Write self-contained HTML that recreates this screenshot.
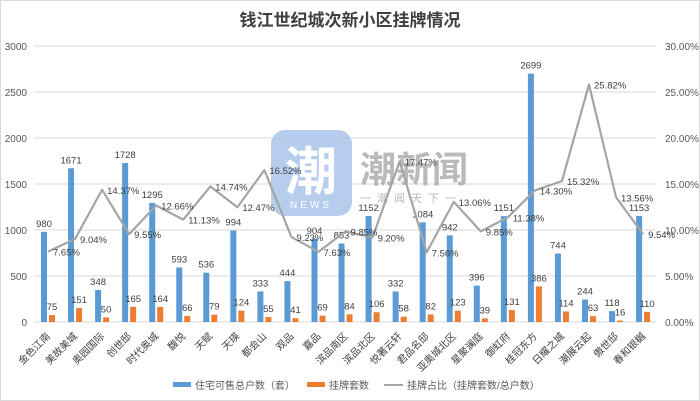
<!DOCTYPE html>
<html><head><meta charset="utf-8"><style>
html,body{margin:0;padding:0;background:#fff}
svg{display:block;font-family:"Liberation Sans","Noto Sans CJK SC",sans-serif}
</style></head><body>
<svg id="c" width="700" height="401" viewBox="0 0 700 401" xmlns="http://www.w3.org/2000/svg">
<rect x="0.5" y="0.5" width="699" height="400" fill="#fff" stroke="#d9d9d9"/>
<text x="350" y="26" text-anchor="middle" font-size="17" font-weight="bold" fill="#404040">钱江世纪城次新小区挂牌情况</text>
<g id="grid"></g>
<g id="wm">
<rect x="271" y="130" width="81" height="86" rx="14" fill="#a9c4ea" opacity="0.85"/>
<text x="311" y="190" text-anchor="middle" font-size="52" font-weight="bold" fill="#fff">潮</text>
<text x="311" y="208" text-anchor="middle" font-size="10" fill="#fff" letter-spacing="3">NEWS</text>
<text x="360" y="182" font-size="36" font-weight="bold" fill="#aaa" opacity="0.8">潮新闻</text>
<text x="360" y="202" font-size="11" fill="#bbb" letter-spacing="6">一潮闻天下一</text>
</g>
<g id="data"></g>
<g font-size="10" fill="#595959">
<rect x="173" y="382" width="18" height="5" fill="#5b9bd5"/><text x="195" y="389">住宅可售总户数（套）</text>
<rect x="307" y="382" width="18" height="5" fill="#ed7d31"/><text x="329" y="389">挂牌套数</text>
<line x1="384" y1="385" x2="403" y2="385" stroke="#a5a5a5" stroke-width="2"/><text x="407" y="389">挂牌占比（挂牌套数/总户数）</text>
</g>
</svg>
<script>
var names=["金色江南","美故美城","奥园国际","创世邸","时代奥城","馥悦","天赋","天瑛","都会山","观品","嘉品","滨品南区","滨品北区","悦著云轩","君品名邸","亚奥城北区","星聚澜庭","御虹府","桂冠东方","日耀之城","潮展云起","傲世邸","春和银樾"];
var A=[980,1671,348,1728,1295,593,536,994,333,444,904,853,1152,332,1084,942,396,1151,2699,744,244,118,1153];
var B=[75,151,50,165,164,66,79,124,55,41,69,84,106,58,82,123,39,131,386,114,63,16,110];
var NS="http://www.w3.org/2000/svg";
function el(p,t,a,txt){var e=document.createElementNS(NS,t);for(var k in a)e.setAttribute(k,a[k]);if(txt!=null)e.textContent=txt;p.appendChild(e);return e;}
var g=document.getElementById('grid'),d=document.getElementById('data');
var y0=322,L=34.5,R=656.5,step=27.05;
function yv(v){return y0-v*276/3000;}
function yp(p){return y0-p*276/30;}
for(var i=0;i<=6;i++){var y=y0-i*46;
el(g,'line',{x1:L,x2:R,y1:y,y2:y,stroke:'#d9d9d9','stroke-width':1});
el(g,'text',{x:27,y:y+4,'text-anchor':'end','font-size':'10',fill:'#595959'},String(i*500));
el(g,'text',{x:665,y:y+4,'font-size':'10',fill:'#595959'},(i*5).toFixed(2)+'%');}
var pts=[];
for(var i=0;i<23;i++){var c=48+i*step;
el(d,'rect',{x:c-7,y:yv(A[i]),width:6,height:A[i]*276/3000,fill:'#5b9bd5'});
el(d,'rect',{x:c+1,y:yv(B[i]),width:6,height:B[i]*276/3000,fill:'#ed7d31'});
el(d,'text',{x:c-4,y:yv(A[i])-5,'text-anchor':'middle','font-size':'9.5',fill:'#404040'},String(A[i]));
el(d,'text',{x:c+4,y:yv(B[i])-5,'text-anchor':'middle','font-size':'9.5',fill:'#404040'},String(B[i]));
var p=B[i]/A[i]*100;pts.push([c,yp(p)]);
el(d,'text',{x:c,y:338,'text-anchor':'end','font-size':'10',fill:'#404040',transform:'rotate(-45 '+c+' 334)'},names[i]);
}
el(d,'polyline',{points:pts.map(function(q){return q.join(',')}).join(' '),fill:'none',stroke:'#a5a5a5','stroke-width':2.2,'stroke-linejoin':'round'});
for(var i=0;i<23;i++){var p=B[i]/A[i]*100;
el(d,'text',{x:pts[i][0]+5,y:pts[i][1]+4,'font-size':'9.5',fill:'#404040'},p.toFixed(2)+'%');}
</script>
</body></html>
